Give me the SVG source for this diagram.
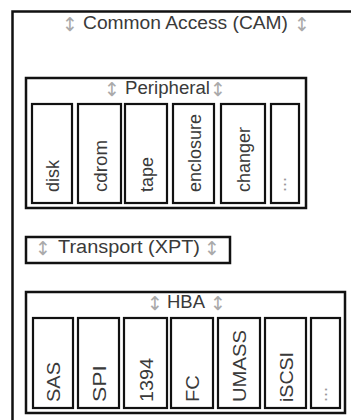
<svg xmlns="http://www.w3.org/2000/svg" width="351" height="420" viewBox="0 0 351 420">
<style>
  .box{fill:#fff;stroke:#111;stroke-width:2.5}
  .cell{fill:#fff;stroke:#111;stroke-width:2.2}
  .lbl{font-family:"Liberation Sans",Arial,sans-serif;font-size:18px;fill:#3a3a3a}
  .arr{font-family:"DejaVu Sans",sans-serif;font-size:19px;fill:#aaa;text-anchor:middle}
  .dots{font-family:"Liberation Sans",Arial,sans-serif;font-size:18px;fill:#999}
</style>
<rect width="351" height="420" fill="#fff"/>
<g id="cam">
  <rect class="box" x="12.5" y="11.5" width="360" height="430"/>
  <text class="arr" x="70" y="31">↕</text>
  <text class="lbl" x="83" y="29" textLength="205" lengthAdjust="spacingAndGlyphs">Common Access (CAM)</text>
  <text class="arr" x="302" y="31">↕</text>
</g>
<g id="peripheral">
  <rect class="box" x="26" y="78" width="280" height="130"/>
  <text class="arr" x="112" y="96">↕</text>
  <text class="lbl" x="125" y="94" textLength="85" lengthAdjust="spacingAndGlyphs">Peripheral</text>
  <text class="arr" x="218" y="96">↕</text>
  <g id="disk"><rect class="cell" x="32" y="104" width="40" height="99"/><text class="lbl" transform="translate(59,192) rotate(-90)">disk</text></g>
  <g id="cdrom"><rect class="cell" x="78" y="104" width="43" height="99"/><text class="lbl" transform="translate(106.5,192) rotate(-90)" textLength="52" lengthAdjust="spacingAndGlyphs">cdrom</text></g>
  <g id="tape"><rect class="cell" x="125" y="104" width="42" height="99"/><text class="lbl" transform="translate(153,192) rotate(-90)">tape</text></g>
  <g id="enclosure"><rect class="cell" x="173" y="104" width="41" height="99"/><text class="lbl" transform="translate(200.5,192) rotate(-90)">enclosure</text></g>
  <g id="changer"><rect class="cell" x="221" y="104" width="44" height="99"/><text class="lbl" transform="translate(250,192) rotate(-90)">changer</text></g>
  <g id="periph-more"><rect class="cell" x="271" y="104" width="28" height="99"/><text class="dots" transform="translate(286,192) rotate(-90)">...</text></g>
</g>
<g id="xpt">
  <rect class="box" x="26" y="237" width="204" height="26"/>
  <text class="arr" x="43" y="255">↕</text>
  <text class="lbl" x="58" y="253" textLength="142" lengthAdjust="spacingAndGlyphs">Transport (XPT)</text>
  <text class="arr" x="212" y="255">↕</text>
</g>
<g id="hba">
  <rect class="box" x="26" y="292" width="319" height="121"/>
  <text class="arr" x="155" y="310">↕</text>
  <text class="lbl" x="167" y="308" textLength="38" lengthAdjust="spacingAndGlyphs">HBA</text>
  <text class="arr" x="218" y="310">↕</text>
  <g id="sas"><rect class="cell" x="33" y="318" width="40" height="90"/><text class="lbl" transform="translate(60,402) rotate(-90)" textLength="40" lengthAdjust="spacingAndGlyphs">SAS</text></g>
  <g id="spi"><rect class="cell" x="78" y="318" width="41" height="90"/><text class="lbl" transform="translate(105.5,402) rotate(-90)" textLength="37" lengthAdjust="spacingAndGlyphs">SPI</text></g>
  <g id="fw1394"><rect class="cell" x="124" y="318" width="43" height="90"/><text class="lbl" transform="translate(152.5,402) rotate(-90)" textLength="44" lengthAdjust="spacingAndGlyphs">1394</text></g>
  <g id="fc"><rect class="cell" x="171" y="318" width="42" height="90"/><text class="lbl" transform="translate(199,402) rotate(-90)" textLength="27" lengthAdjust="spacingAndGlyphs">FC</text></g>
  <g id="umass"><rect class="cell" x="218" y="318" width="42" height="90"/><text class="lbl" transform="translate(246,402) rotate(-90)" textLength="72" lengthAdjust="spacingAndGlyphs">UMASS</text></g>
  <g id="iscsi"><rect class="cell" x="265" y="318" width="41" height="90"/><text class="lbl" transform="translate(292.5,402) rotate(-90)" textLength="50" lengthAdjust="spacingAndGlyphs">iSCSI</text></g>
  <g id="hba-more"><rect class="cell" x="311" y="318" width="29" height="90"/><text class="dots" transform="translate(326.5,402) rotate(-90)">...</text></g>
</g>
<g id="connectors"></g>
</svg>
